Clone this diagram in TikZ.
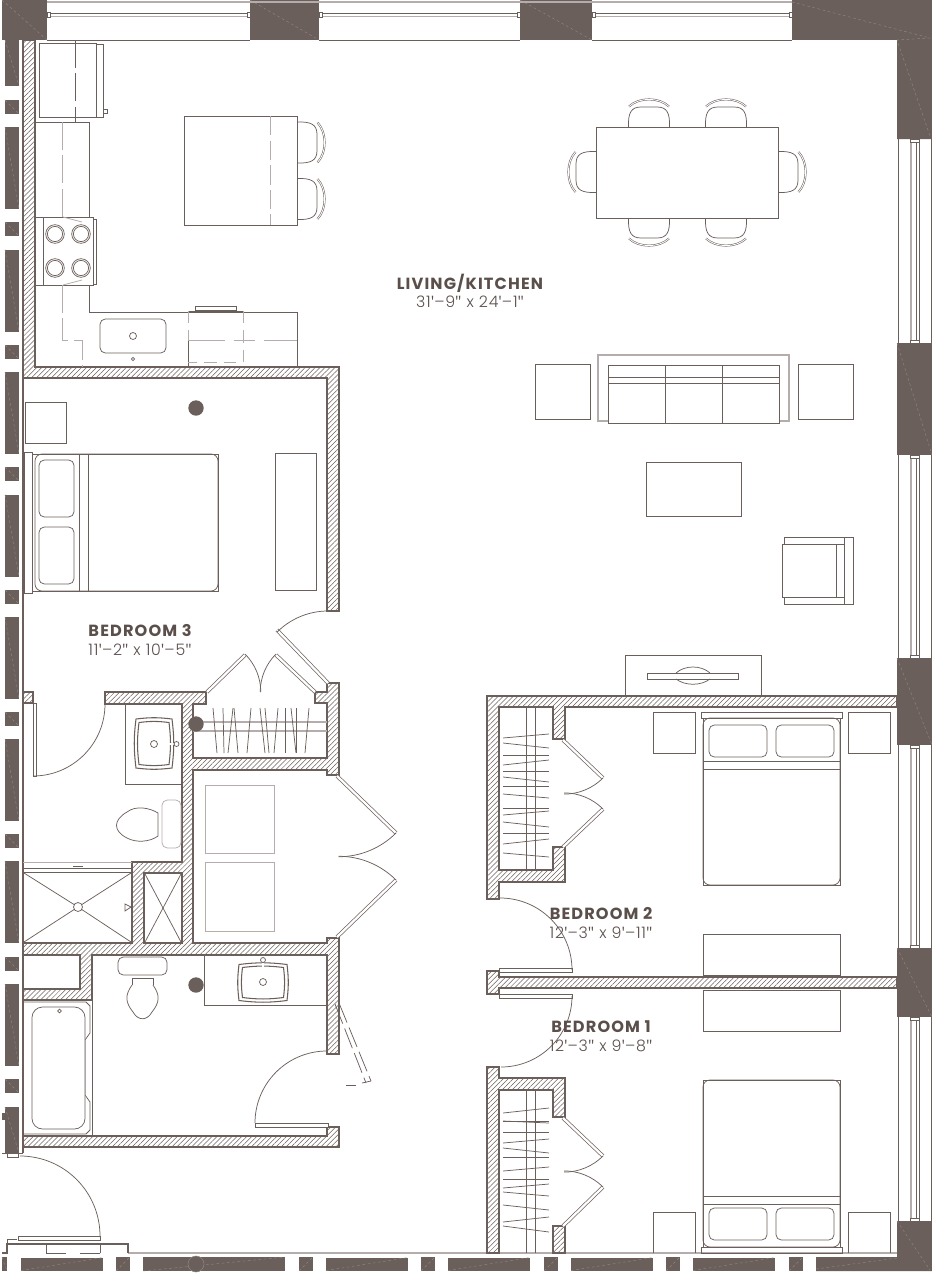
\documentclass[tikz,border=0pt]{standalone}
\usepackage{fontspec}
\setmainfont{Poppins}
\newfontfamily\dimfont{Poppins}[UprightFont=* Light]
\newfontfamily\primefont{Open Sans}
\newcommand{\pr}{{\primefont ′}}
\newcommand{\dpr}{{\primefont ″}}
\usetikzlibrary{patterns.meta}
\definecolor{planline}{HTML}{6B5F5B}
\definecolor{planlight}{HTML}{B5ADAB}
\definecolor{pierfill}{HTML}{6A5F5A}
\definecolor{labeltext}{HTML}{5B4F4B}
\tikzset{
  wall/.style={draw=planline,line width=.8pt,line join=miter,
    pattern={Lines[angle=45,distance=2pt,line width=.3pt]},pattern color=planline},
  furn/.style={draw=planline,line width=.42pt},
  softline/.style={draw=planlight,line width=.7pt},
  brokenline/.style={draw=planlight,line width=.55pt,dash pattern=on 16pt off 3pt},
  leaf/.style={draw=planline,line width=.4pt,double=white,double distance=1.3pt},
  piermark/.style={draw=pierfill!75!white,line width=.25pt,dash pattern=on 1.5pt off 1.5pt},
  roomname/.style={text=labeltext,font=\fontsize{9.2}{11}\selectfont\bfseries\addfontfeature{LetterSpace=7}},
  roomsize/.style={text=labeltext,font=\dimfont\fontsize{9}{11}\selectfont\addfontfeature{LetterSpace=5}},
  chairseat/.pic={
    \draw[furn] (0,-20.5) .. controls (14,-21) and (20,-18) .. (20,-8) -- (20,8)
      .. controls (20,18) and (14,21) .. (0,20.5);
    \draw[furn,double=white,double distance=.5pt,line width=.3pt]
      (20.5,-20) .. controls (30,-10) and (30,10) .. (20.5,20);
  }
}
\newcommand{\pier}[4]{%
  \fill[pierfill] (#1,#2) rectangle (#3,#4);
  \draw[piermark] (#1,#2) -- (#3,#4);}
\newcommand{\bowl}[4]{%
  \draw[furn,line width=.6pt] (#1-#3,#2-#4) to[bend left=7] (#1+#3,#2-#4)
    to[bend left=7] (#1+#3,#2+#4) to[bend left=7] (#1-#3,#2+#4)
    to[bend left=7] (#1-#3,#2-#4);}
\begin{document}
\begin{tikzpicture}[x=0.02cm,y=-0.02cm]
    \useasboundingbox (0,0) rectangle (932,1274);
    \foreach \ya in {127,249.5,372,494.5,617,739,861,984}
      \pier{5}{\ya}{19}{\ya+82};
    \foreach \ya in {100,222,345,467,590,712,834,957,1079}
      \pier{5}{\ya}{19}{\ya+14};
    \pier{5}{1107}{19}{1153}
    \pier{5}{40}{19}{86}
    \fill[pierfill] (2,1113) rectangle (5,1120);
    \pier{2}{0}{47}{40}
    \pier{250}{0}{319}{40}
    \pier{520}{0}{592}{40}
    \fill[pierfill] (792,0) -- (932,0) -- (932,139) -- (897,139) -- (897,40) -- (792,40) -- cycle;
    \draw[piermark] (792,2) -- (930,38) -- (897,40) -- (930,136);
    \pier{897}{343}{932}{455}
    \pier{897}{658}{932}{745}
    \pier{897}{948}{932}{1017}
    \fill[pierfill] (816,1257) -- (897,1257) -- (897,1221) -- (932,1221) -- (932,1271) -- (816,1271) -- cycle;
    \draw[piermark] (897,1221) -- (930,1270);
    \draw[piermark] (816,1269) -- (897,1258);
    \pier{2}{1257}{7}{1271}
    \foreach \xa in {21,326,448,571,693}
      \pier{\xa}{1270.5}{\xa+82}{1257.5};
    \foreach \xa in {116,299,421,544,666,789}
      \pier{\xa}{1271}{\xa+14}{1257};
    \pier{143}{1271}{285}{1257}
    \draw[fill=pierfill,draw=pierfill!75!white,line width=.3pt] (196,1264) circle[radius=8];
    \draw[softline,line width=1pt] (47,2) -- (792,2);
    \foreach \xa/\xb in {47/250,319/520,592/792} {
      \draw[furn,line width=.5pt] (\xa,13) -- (\xb,13);
      \draw[softline] (\xa,16.5) -- (\xb,16.5);
      \draw[furn,fill=white] (\xa,12) rectangle (\xa+3,17);
      \draw[furn,fill=white] (\xb-3,12) rectangle (\xb,17);
      \draw[furn] (\xa,40) -- (\xb,40);
    }
    \foreach \ya/\yb in {139/343,455/658,745/948,1017/1221} {
      \draw[furn] (898,\ya) -- (898,\yb);
      \draw[furn] (931,\ya) -- (931,\yb);
      \draw[softline] (911,\ya) -- (911,\yb);
      \draw[furn] (916,\ya) -- (916,\yb);
      \draw[furn] (919,\ya) -- (919,\yb);
      \draw[furn,fill=white] (910,\ya) rectangle (919,\ya+3);
      \draw[furn,fill=white] (910,\yb-3) rectangle (919,\yb);
    }
    \draw[softline,line width=1pt] (128,1253) -- (897,1253);
    \draw[furn,line width=.6pt] (2,1253) -- (7,1253) -- (7,1244) -- (128,1244) -- (128,1253);
    \draw[furn] (46,1253) -- (46,1244);
    \draw[furn] (100,1253) -- (100,1244);
    \draw[furn] (46,1253) -- (66,1253);
    \draw[furn] (80,1253) -- (100,1253);
    \draw[furn] (7,1244) -- (7,1239) -- (17,1239);
    \draw[furn,fill=white] (18,1236) rectangle (100,1240);
    \draw[furn,fill=white] (7,1153) rectangle (18,1157);
    \draw[furn] (2,1153) -- (23,1153);
    \draw[furn] (100,1236) arc[start angle=0,end angle=-90,radius=80];
    \draw[planline,line width=.6pt] (23,40) -- (23,1153);

    \draw[wall] (23,40) -- (35,40) -- (35,367) -- (339,367) -- (339,611) -- (327,611) -- (327,378) -- (23,378) -- cycle;
    \draw[wall] (23,692) -- (33,692) -- (33,703) -- (23,703) -- cycle;
    \draw[wall,even odd rule] (105,692) -- (206,692) -- (206,704) -- (193,704) -- (193,758) -- (327,758)
      -- (327,703) -- (315,703) -- (315,692) -- (327,692) -- (327,683) -- (339,683) -- (339,775)
      -- (327,775) -- (327,770) -- (193,770) -- (193,943) -- (327,943) -- (327,938) -- (339,938)
      -- (339,1054) -- (327,1054) -- (327,955) -- (92,955) -- (92,1000) -- (23,1000) -- (23,989)
      -- (80,989) -- (80,955) -- (23,955) -- (23,943) -- (132,943) -- (132,862) -- (182,862)
      -- (182,704) -- (105,704) -- cycle
      (144,873) -- (182,873) -- (182,943) -- (144,943) -- cycle;
    \draw[wall] (23,1136) -- (327,1136) -- (327,1127) -- (339,1127) -- (339,1147) -- (23,1147) -- cycle;
    \draw[wall] (487,696) -- (897,696) -- (897,707) -- (565,707) -- (565,739) -- (553,739) -- (553,707)
      -- (499,707) -- (499,870) -- (553,870) -- (553,847) -- (565,847) -- (565,882) -- (499,882)
      -- (499,899) -- (487,899) -- cycle;
    \draw[wall] (487,971) -- (499,971) -- (499,977) -- (897,977) -- (897,988) -- (499,988) -- (499,994)
      -- (487,994) -- cycle;
    \draw[wall] (487,1067) -- (499,1067) -- (499,1078) -- (565,1078) -- (565,1117) -- (553,1117)
      -- (553,1090) -- (499,1090) -- (499,1253) -- (487,1253) -- cycle;
    \draw[wall] (553,1226) -- (565,1226) -- (565,1253) -- (553,1253) -- cycle;

    \draw[furn] (39,43) rectangle (96,117);
    \draw[furn,fill=white] (96,44) rectangle (103,117);
    \draw[furn] (103,109) rectangle (107,113);
    \draw[brokenline,draw=planline] (75,40) -- (75,122);
    \draw[furn] (35,122) -- (89,122) -- (89,217);
    \draw[brokenline] (62,122) -- (62,217);
    \draw[furn] (35,217) rectangle (93,285);
    \draw[furn] (43,217) -- (43,285);
    \draw[furn] (93,219) rectangle (96,284);
    \draw[softline,line width=.45pt] (63,217) -- (82,222);
    \draw[softline,line width=.45pt] (63,285) -- (82,280);
    \foreach \xc in {55,81}
      \foreach \yc in {234,268} {
        \draw[furn] (\xc,\yc) circle[radius=9.3];
        \draw[furn] (\xc,\yc) circle[radius=7.6];
      }
    \draw[furn] (89,285) -- (89,312) -- (297,312) -- (297,367);
    \draw[brokenline] (62,285) -- (62,340) -- (82,340) -- (82,367);
    \draw[furn,rounded corners=3pt] (100,319) rectangle (166,353);
    \draw[furn] (133,336) circle[radius=3.5];
    \draw[furn] (133,359) circle[radius=1.7];
    \draw[furn] (195,306) rectangle (236,310);
    \draw[furn] (188,311) -- (243,311);
    \draw[furn] (188,340) -- (188,367);
    \draw[brokenline,dash pattern=on 7pt off 4pt] (188,311) -- (188,340);
    \draw[brokenline,dash pattern=on 7pt off 4pt] (243,311) -- (243,362) -- (188,362);
    \draw[brokenline,dash pattern=on 21pt off 5pt on 12pt off 5pt] (188,340) -- (297,340);

    \draw[furn] (184,116) rectangle (297,225);
    \draw[brokenline,dash pattern=on 11pt off 3pt] (270,116) -- (270,225);
    \pic at (297,142.5) {chairseat};
    \pic at (297,199) {chairseat};

    \draw[furn] (596,127) rectangle (778,218);
    \foreach \xc in {649,726} {
      \pic[rotate=90] at (\xc,127) {chairseat};
      \pic[rotate=-90] at (\xc,218) {chairseat};
    }
    \pic at (778,172) {chairseat};
    \pic[rotate=180] at (596,172) {chairseat};

    \draw[furn] (535,364) rectangle (590,419);
    \draw[furn] (798,364) rectangle (853,419);
    \draw[softline] (608,421) -- (598,421) -- (598,355) -- (789,355) -- (789,421) -- (779,421);
    \draw[furn] (608,365) rectangle (779,423);
    \draw[furn] (608,377) -- (779,377);
    \draw[furn] (608,383) -- (779,383);
    \draw[furn] (665,365) -- (665,423);
    \draw[furn] (722,365) -- (722,423);
    \draw[furn] (646,462) rectangle (741,516);
    \draw[furn] (784,544) -- (784,537) -- (853,537) -- (853,604) -- (784,604) -- (784,597);
    \draw[furn] (782,544) rectangle (844,597);
    \draw[furn] (836,544) -- (836,597);
    \draw[furn] (844,537) -- (844,604);

    \draw[furn] (25,402) rectangle (66,443);
    \draw[furn,fill=white] (24,452) rectangle (32,593);
    \draw[furn] (32,454) rectangle (218,591);
    \draw[furn,rounded corners=4pt] (35,454) rectangle (218,591);
    \draw[furn] (79,454) -- (79,591);
    \draw[furn] (88,454) -- (88,591);
    \draw[furn,rounded corners=3pt] (39,460) rectangle (74,517);
    \draw[furn,rounded corners=3pt] (39,527) rectangle (74,584);
    \draw[furn] (275,453) rectangle (316,590);
    \draw[leaf] (277,630) -- (328,683);
    \draw[furn] (328,611) arc[start angle=-90,end angle=-135,radius=72];
    \draw[leaf] (207,692) -- (245,655);
    \draw[leaf] (276,655) -- (315,692);
    \draw[furn] (245,654) arc[start angle=-45,end angle=0,radius=54];
    \draw[furn] (276,654) arc[start angle=-135,end angle=-180,radius=54];
    \draw[softline] (193,722) -- (327,722);
    \draw[softline] (193,731) -- (327,731);
    \foreach \xa/\xb in {213/217,223/224,233/228,234/238,251/247,260/265,265/269,278/274,285/285,291/296,296/296,309/305}
      \draw[furn] (\xa,708) -- (\xb,753);
    \draw[leaf] (337,776) -- (396,833);
    \draw[leaf] (337,937) -- (396,880);
    \draw[furn] (396,833) arc[start angle=45,end angle=90,radius=81];
    \draw[furn] (396,880) arc[start angle=-45,end angle=-90,radius=81];
    \draw[softline,line width=.5pt] (205,785) rectangle (274,853);
    \draw[softline,line width=.5pt] (205,862) rectangle (274,931);
    \foreach \yc in {408,724,985}
      \fill[pierfill] (196,\yc) circle[radius=7.7];

    \draw[furn,fill=white] (33,703) rectangle (36,776);
    \draw[furn] (105,704) arc[start angle=0,end angle=90,radius=72];
    \draw[furn] (125,704) -- (125,784) -- (182,784);
    \bowl{154}{743.5}{18}{24.5}
    \bowl{154}{743.5}{15}{21}
    \draw[furn] (154,744) circle[radius=3.5];
    \draw[furn,double=white,double distance=.8pt,line width=.3pt] (164,744) -- (174,744);
    \draw[furn] (176.5,744) circle[radius=2.5];
    \draw[furn,rounded corners=3pt,draw=planlight] (162,800) rectangle (181,848);
    \draw[furn] (158,813) .. controls (150,808) and (136,805) .. (127,812) .. controls (113,820) and (113,831) .. (127,838)
      .. controls (136,843) and (150,842) .. (158,836) -- cycle;

    \draw[softline,line width=.5pt] (23,862) -- (132,862);
    \draw[furn] (23,868) -- (132,868);
    \draw[furn] (73,866) -- (83,866);
    \draw[furn] (23,872) -- (132,872);
    \coordinate (drain) at (78,907);
    \draw[furn] (24,873) -- (drain) -- (131,873);
    \draw[furn] (24,942) -- (drain) -- (131,942);
    \draw[furn,fill=white] (drain) circle[radius=4.5];
    \draw[furn] (131,907) -- (125,904) -- (125,911) -- cycle;
    \draw[furn] (145,874) -- (181,942);
    \draw[furn] (181,874) -- (145,942);

    \draw[furn,rounded corners=3pt] (118,957) rectangle (167,975);
    \draw[furn] (132,985) -- (132,978) -- (153,978) -- (153,985);
    \draw[furn] (132,985) .. controls (125,995) and (125,1002) .. (133,1012) .. controls (138,1021) and (147,1021) .. (152,1012)
      .. controls (160,1002) and (160,995) .. (153,985);
    \draw[furn] (204,955) -- (204,1005) -- (327,1005);
    \bowl{263}{982.5}{24}{18}
    \bowl{263}{982.5}{20.5}{15}
    \draw[furn] (263,982) circle[radius=3.5];
    \draw[furn,double=white,double distance=.8pt,line width=.3pt] (263,963) -- (263,973);
    \draw[furn] (263,960) circle[radius=2.5];
    \draw[furn] (23,1002) -- (86,1002) -- (90,1006) -- (90,1033) -- (85,1040) -- (85,1095) -- (90,1102)
      -- (90,1130) -- (86,1134) -- (23,1134);
    \draw[furn] (92,1000) -- (92,1136);
    \draw[furn,fill=white,rounded corners=6pt] (32,1007) rectangle (85,1129);
    \draw[furn] (59.5,1011) circle[radius=1.8];
    \draw[furn,fill=white] (255,1123) rectangle (328,1127);
    \draw[furn] (255,1123) arc[start angle=180,end angle=270,radius=72];
    \draw[furn,dash pattern=on 12pt off 3pt] (335,1004) -- (366,1083);
    \draw[furn,dash pattern=on 12pt off 3pt] (339,1003) -- (371,1081);
    \draw[furn] (362,1083) -- (371,1081);
    \draw[furn] (346,1085) -- (356,1085);

    \draw[furn] (625,696) -- (625,655) -- (761,655) -- (761,696);
    \draw[furn] (676,673) .. controls (685,665) and (701,665) .. (710,673);
    \draw[furn] (676,679) .. controls (685,686) and (701,686) .. (710,679);
    \draw[furn] (647,673) rectangle (738,679);
    \draw[furn] (653,712) rectangle (695,753);
    \draw[furn] (848,712) rectangle (890,753);
    \draw[furn] (701,712) rectangle (842,718);
    \draw[furn] (703,718) rectangle (840,885);
    \draw[furn,rounded corners=4pt] (703,718) rectangle (840,885);
    \draw[furn] (703,761) -- (840,761);
    \draw[furn] (703,769) -- (840,769);
    \draw[furn,rounded corners=3pt] (709,725) rectangle (767,757);
    \draw[furn,rounded corners=3pt] (776,725) rectangle (834,757);
    \draw[furn] (526,707) -- (526,870);
    \draw[furn] (535,707) -- (535,870);
    \foreach \ya/\yb in {738/734,743/748,755/755,765/760,771/771,777/782,786/786,794/798,808/808,815/811,822/827,833/833,844/839,853/857}
      \draw[furn] (503,\ya) -- (549,\yb);
    \draw[leaf] (563,740) -- (603,778);
    \draw[leaf] (563,847) -- (603,809);
    \draw[furn] (603,778) arc[start angle=45,end angle=90,radius=55];
    \draw[furn] (603,809) arc[start angle=-45,end angle=-90,radius=55];
    \draw[furn,fill=white] (499,968) rectangle (572,972);
    \draw[furn] (572,970) arc[start angle=0,end angle=-90,radius=72];
    \draw[furn,fill=white] (499,994) rectangle (572,998);
    \draw[furn] (572,996) arc[start angle=0,end angle=90,radius=71];

    \draw[furn] (703,934) rectangle (840,975);
    \draw[furn] (703,990) rectangle (840,1031);
    \draw[furn] (703,1080) rectangle (840,1247);
    \draw[furn,rounded corners=4pt] (703,1080) rectangle (840,1247);
    \draw[furn] (703,1196) -- (840,1196);
    \draw[furn] (703,1204) -- (840,1204);
    \draw[furn,rounded corners=3pt] (709,1208) rectangle (767,1240);
    \draw[furn,rounded corners=3pt] (776,1208) rectangle (834,1240);
    \draw[furn] (701,1247) rectangle (842,1253);
    \draw[furn] (653,1253) -- (653,1212) -- (695,1212) -- (695,1253);
    \draw[furn] (848,1253) -- (848,1212) -- (890,1212) -- (890,1253);
    \draw[furn] (526,1090) -- (526,1253);
    \draw[furn] (535,1090) -- (535,1253);
    \foreach \ya/\yb in {1113/1108,1121/1123,1121/1121,1132/1132,1143/1139,1148/1153,1157/1157,1171/1167,1179/1179,1188/1184,1192/1196,1205/1210,1222/1217,1226/1232}
      \draw[furn] (503,\ya) -- (549,\yb);
    \draw[leaf] (563,1118) -- (603,1156);
    \draw[leaf] (563,1226) -- (603,1187);
    \draw[furn] (603,1156) arc[start angle=45,end angle=90,radius=55];
    \draw[furn] (603,1187) arc[start angle=-45,end angle=-90,radius=55];

    \node[roomname] (livingname) at (470,283) {LIVING/KITCHEN};
    \node[roomsize] (livingsize) at (470,302) {31\pr–9\dpr{} x 24\pr–1\dpr};
    \node[roomname] (bedthreename) at (140,631) {BEDROOM 3};
    \node[roomsize] (bedthreesize) at (140,650) {11\pr–2\dpr{} x 10\pr–5\dpr};
    \node[roomname] (bedtwoname) at (601,914) {BEDROOM 2};
    \node[roomsize] (bedtwosize) at (601,933) {12\pr–3\dpr{} x 9\pr–11\dpr};
    \node[roomname] (bedonename) at (601,1027) {BEDROOM 1};
    \node[roomsize] (bedonesize) at (601,1046) {12\pr–3\dpr{} x 9\pr–8\dpr};
  \end{tikzpicture}
\end{document}
